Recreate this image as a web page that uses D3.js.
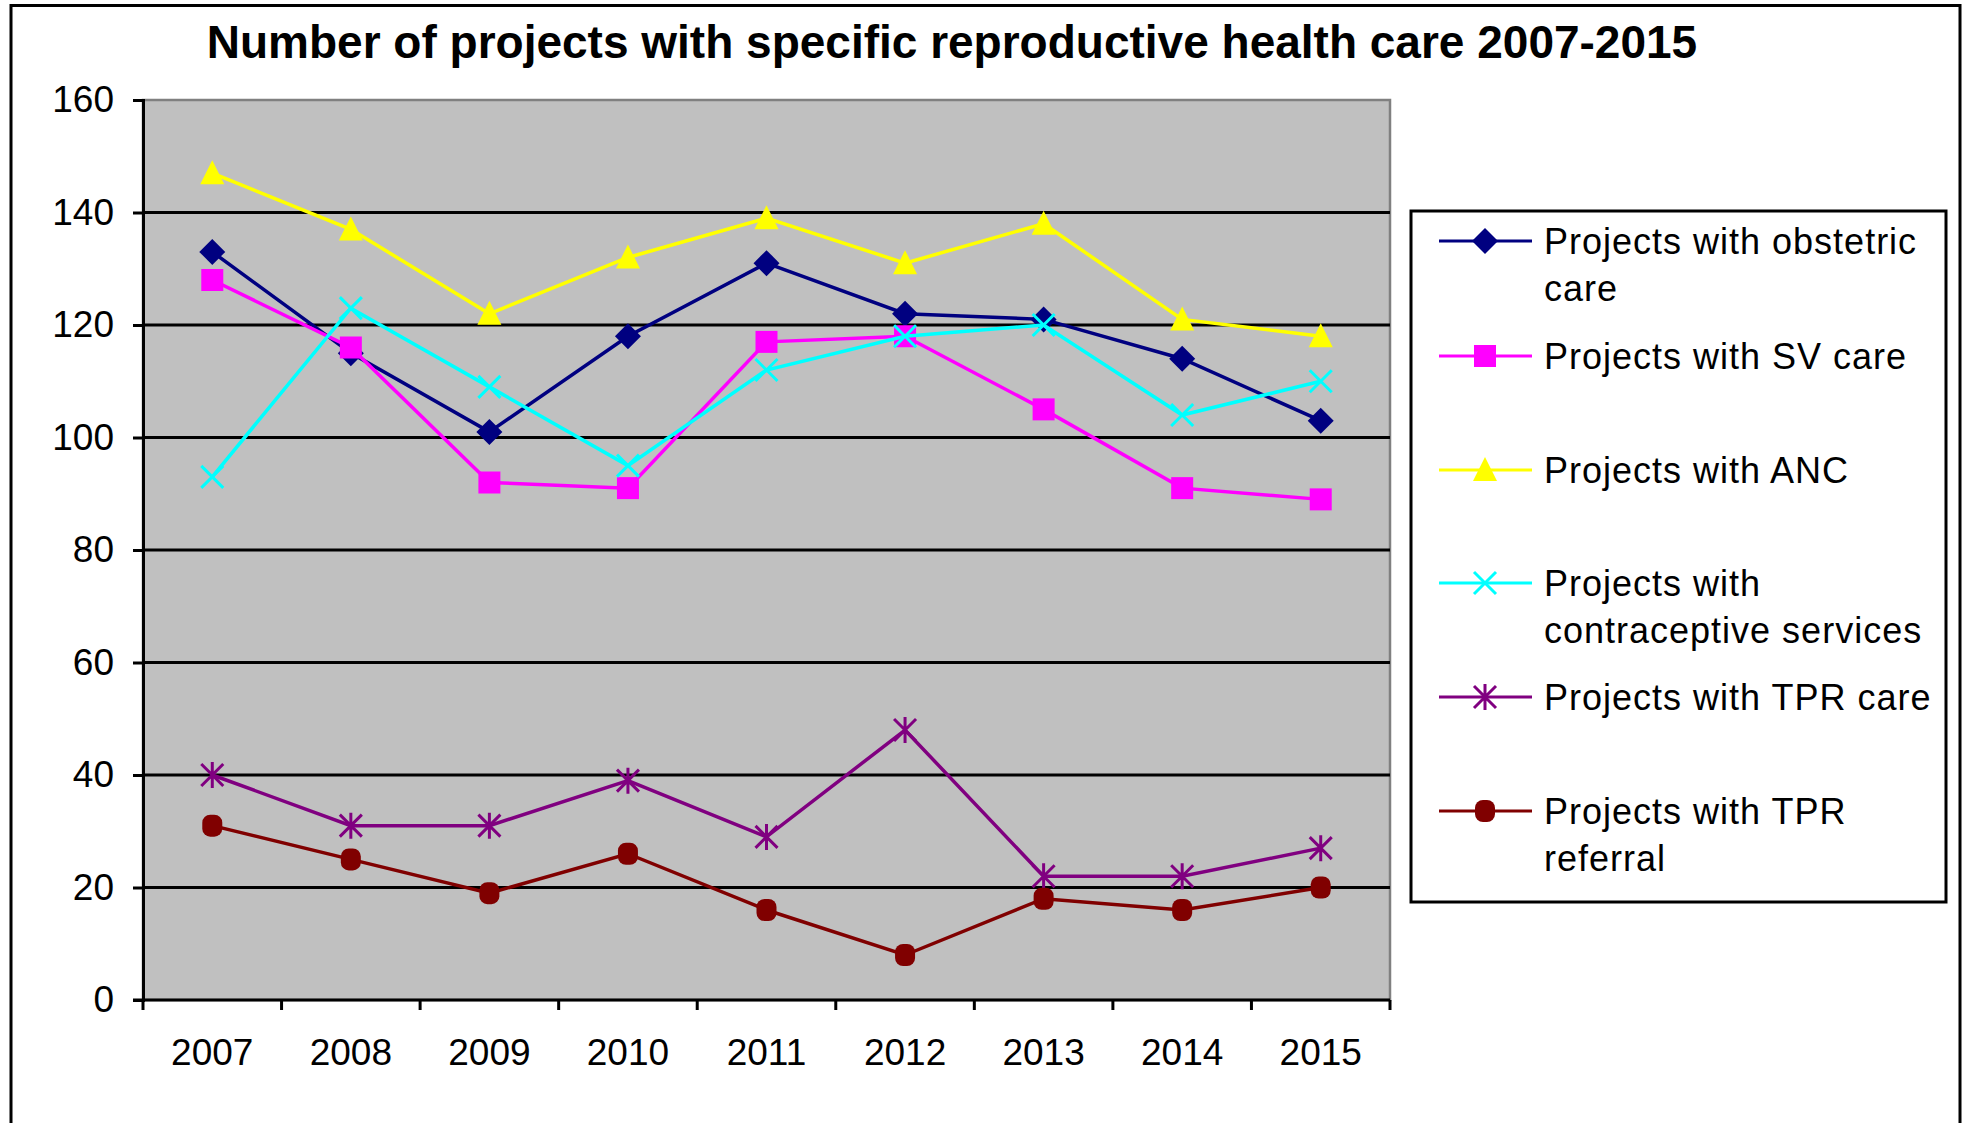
<!DOCTYPE html>
<html>
<head>
<meta charset="utf-8">
<script src="https://cdn.jsdelivr.net/npm/d3@7/dist/d3.min.js"></script>
<style>
  body { margin: 0; background: #fff; }
  text { font-family: "Liberation Sans", Arial, sans-serif; }
</style>
</head>
<body>
<div id="chart"></div>
<script>
// data
var years = ['2007', '2008', '2009', '2010', '2011', '2012', '2013', '2014', '2015'];
var yTicks = [0, 20, 40, 60, 80, 100, 120, 140, 160];

var obstetric     = [133, 115, 101, 118, 131, 122, 121, 114, 103];
var svCare        = [128, 116, 92, 91, 117, 118, 105, 91, 89];
var anc           = [147, 137, 122, 132, 139, 131, 138, 121, 118];
var contraceptive = [93, 123, 109, 95, 112, 118, 120, 104, 110];
var tprCare       = [40, 31, 31, 39, 29, 48, 22, 22, 27];
var tprReferral   = [31, 25, 19, 26, 16, 8, 18, 16, 20];

var legendLabels = [
  ['Projects with obstetric', 'care'],
  ['Projects with SV care'],
  ['Projects with ANC'],
  ['Projects with', 'contraceptive services'],
  ['Projects with TPR care'],
  ['Projects with TPR', 'referral']
];

var title = 'Number of projects with specific reproductive health care 2007-2015';

// parameters
var width = 1968;
var height = 1123;
var plot = {left: 143, right: 1390, top: 100, bottom: 1000};

var series = [
  {values: obstetric,     color: '#000080', marker: 'diamond'},
  {values: svCare,        color: '#ff00ff', marker: 'square'},
  {values: anc,           color: '#ffff00', marker: 'triangle'},
  {values: contraceptive, color: '#00ffff', marker: 'cross'},
  {values: tprCare,       color: '#800080', marker: 'star'},
  {values: tprReferral,   color: '#800000', marker: 'circle'}
];

var svg = d3.select('#chart')
  .append('svg')
  .attr('width', width)
  .attr('height', height);

svg.append('rect')
  .attr('width', width).attr('height', height)
  .attr('fill', '#fff');

// outer frame (bottom edge runs off the picture)
svg.append('rect')
  .attr('x', 11).attr('y', 5.5)
  .attr('width', 1949).attr('height', 1140)
  .attr('fill', 'none')
  .attr('stroke', '#000')
  .attr('stroke-width', 3);

svg.append('text')
  .attr('x', 952).attr('y', 58)
  .attr('text-anchor', 'middle')
  .style('font-size', '46px')
  .style('font-weight', 'bold')
  .text(title);

var x = d3.scaleBand()
  .domain(years)
  .range([plot.left, plot.right]);

var y = d3.scaleLinear()
  .domain([0, 160])
  .range([plot.bottom, plot.top]);

// plot background
svg.append('rect')
  .attr('x', plot.left).attr('y', plot.top)
  .attr('width', plot.right - plot.left)
  .attr('height', plot.bottom - plot.top)
  .attr('fill', '#c0c0c0')
  .attr('stroke', '#808080')
  .attr('stroke-width', 2.5);

// gridlines
svg.append('g')
  .selectAll('line')
  .data(yTicks.filter(function(d) { return d > 0 && d < 160; }))
  .enter()
  .append('line')
  .attr('x1', plot.left).attr('x2', plot.right)
  .attr('y1', function(d) { return y(d); })
  .attr('y2', function(d) { return y(d); })
  .attr('stroke', '#000')
  .attr('stroke-width', 3);

// y axis
var yAxis = svg.append('g')
  .attr('transform', 'translate(' + plot.left + ',0)')
  .call(d3.axisLeft(y).tickValues(yTicks).tickSize(10).tickPadding(19));
yAxis.select('.domain').attr('stroke-width', 3);
yAxis.selectAll('.tick line').attr('stroke-width', 3);
yAxis.selectAll('text')
  .style('font-size', '37px')
  .style('font-family', '"Liberation Sans", Arial, sans-serif')
  .attr('fill', '#000');

// x axis, ticks sit on the category boundaries
var xAxis = svg.append('g')
  .attr('transform', 'translate(0,' + plot.bottom + ')')
  .call(d3.axisBottom(x).tickSize(0).tickPadding(39));
xAxis.select('.domain').attr('stroke-width', 3).attr('d', 'M' + (plot.left - 10) + ',0H' + plot.right);
xAxis.selectAll('text')
  .style('font-size', '37px')
  .style('font-family', '"Liberation Sans", Arial, sans-serif')
  .attr('fill', '#000');

svg.append('g')
  .selectAll('line')
  .data(years.concat(['end']))
  .enter()
  .append('line')
  .attr('x1', function(d, i) { return plot.left + i * x.bandwidth(); })
  .attr('x2', function(d, i) { return plot.left + i * x.bandwidth(); })
  .attr('y1', plot.bottom)
  .attr('y2', plot.bottom + 10)
  .attr('stroke', '#000')
  .attr('stroke-width', 3);

// draw a marker at the origin of g
function drawMarker(g, type, color) {
  if (type == 'diamond') {
    g.append('path').attr('d', 'M0,-13L13,0L0,13L-13,0Z').attr('fill', color);
  } else if (type == 'square') {
    g.append('rect').attr('x', -11).attr('y', -11).attr('width', 22).attr('height', 22).attr('fill', color);
  } else if (type == 'triangle') {
    g.append('path').attr('d', 'M0,-13L12,11L-12,11Z').attr('fill', color);
  } else if (type == 'cross') {
    g.append('path').attr('d', 'M-11,-11L11,11M-11,11L11,-11')
      .attr('stroke', color).attr('stroke-width', 3).attr('fill', 'none');
  } else if (type == 'star') {
    g.append('path').attr('d', 'M-11,-11L11,11M-11,11L11,-11M0,-13L0,13')
      .attr('stroke', color).attr('stroke-width', 3).attr('fill', 'none');
  } else if (type == 'circle') {
    g.append('rect').attr('x', -10).attr('y', -11).attr('width', 20).attr('height', 22)
      .attr('rx', 8).attr('ry', 8).attr('fill', color);
  }
}

var line = d3.line()
  .x(function(d, i) { return x(years[i]) + x.bandwidth() / 2; })
  .y(function(d) { return y(d); });

series.forEach(function(s) {
  var g = svg.append('g');
  g.append('path')
    .attr('d', line(s.values))
    .attr('fill', 'none')
    .attr('stroke', s.color)
    .attr('stroke-width', 3.5);

  g.selectAll('g.pt')
    .data(s.values)
    .enter()
    .append('g')
    .attr('class', 'pt')
    .attr('transform', function(d, i) {
      return 'translate(' + (x(years[i]) + x.bandwidth() / 2) + ',' + y(d) + ')';
    })
    .each(function() { drawMarker(d3.select(this), s.marker, s.color); });
});

// legend
var legendRows = [241, 356, 470, 583, 697, 811];
var legend = svg.append('g');
legend.append('rect')
  .attr('x', 1411).attr('y', 211)
  .attr('width', 535).attr('height', 691)
  .attr('fill', '#fff')
  .attr('stroke', '#000')
  .attr('stroke-width', 3);

series.forEach(function(s, i) {
  var ly = legendRows[i];
  legend.append('line')
    .attr('x1', 1439).attr('x2', 1532)
    .attr('y1', ly).attr('y2', ly)
    .attr('stroke', s.color)
    .attr('stroke-width', 3);
  drawMarker(legend.append('g').attr('transform', 'translate(1485,' + ly + ')'), s.marker, s.color);

  var t = legend.append('text')
    .attr('x', 1544)
    .attr('y', ly + 13)
    .style('font-size', '36px')
    .style('letter-spacing', '1px');
  legendLabels[i].forEach(function(part, j) {
    t.append('tspan')
      .attr('x', 1544)
      .attr('dy', j == 0 ? 0 : 47)
      .text(part);
  });
});
</script>
</body>
</html>
